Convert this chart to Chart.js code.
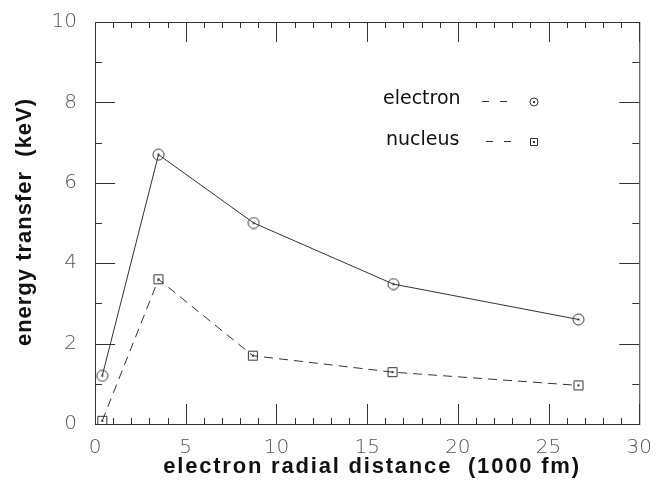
<!DOCTYPE html>
<html>
<head>
<meta charset="utf-8">
<script src="https://cdn.jsdelivr.net/npm/chart.js@4.4.1/dist/chart.umd.min.js"></script>
<style>
  html, body { margin: 0; background: #fff; }
  #wrap { width: 656px; height: 481px; }
</style>
</head>
<body>
<div id="wrap"><canvas id="chart"></canvas></div>
<script>
// values
const electronX = [0.4, 3.5, 8.75, 16.45, 26.65];
const electronY = [1.2, 6.7, 5.0, 3.48, 2.6];
const nucleusX = [0.4, 3.5, 8.7, 16.4, 26.65];
const nucleusY = [0.08, 3.6, 1.7, 1.29, 0.96];
const xTicks = [0, 5, 10, 15, 20, 25, 30];
const yTicks = [0, 2, 4, 6, 8, 10];
const seriesNames = ["electron", "nucleus"];
const xTitle = "electron radial distance  (1000 fm)";
const yTitle = "energy transfer  (keV)";

const ink = "#333";

function marker(kind, size) {
    const c = document.createElement("canvas");
    c.width = size; c.height = size;
    const g = c.getContext("2d");
    const m = size / 2;
    g.strokeStyle = ink;
    g.lineWidth = 1;
    g.beginPath();
    if (kind === "circle") g.arc(m, m, m - 1, 0, Math.PI * 2);
    else g.rect(1.5, 1.5, size - 3, size - 3);
    g.stroke();
    g.fillStyle = ink;
    g.fillRect(m - 1, m - 1, 2, 2);
    return c;
}

const toPoints = (xs, ys) => xs.map((x, i) => ({ x: x, y: ys[i] }));

// frame with inward ticks on all four sides, titles and the legend
const framePlugin = {
    id: "frame",
    beforeDatasetsDraw(chart) {
        const { ctx, chartArea: a, scales } = chart;
        ctx.save();
        ctx.strokeStyle = ink;
        ctx.lineWidth = 1;
        ctx.strokeRect(a.left + 0.5, a.top + 0.5, a.right - a.left, a.bottom - a.top);
        ctx.beginPath();
        for (let v = 0; v <= 30; v++) {
            const px = Math.round(scales.x.getPixelForValue(v)) + 0.5;
            const len = xTicks.includes(v) ? 20 : 6;
            ctx.moveTo(px, a.bottom); ctx.lineTo(px, a.bottom - len);
            ctx.moveTo(px, a.top); ctx.lineTo(px, a.top + len);
        }
        for (let v = 0; v <= 10; v++) {
            const py = Math.round(scales.y.getPixelForValue(v)) + 0.5;
            const len = yTicks.includes(v) ? 20 : 7;
            ctx.moveTo(a.left, py); ctx.lineTo(a.left + len, py);
            ctx.moveTo(a.right, py); ctx.lineTo(a.right - len, py);
        }
        ctx.stroke();
        ctx.restore();
    },
    afterDraw(chart) {
        const { ctx } = chart;
        ctx.save();
        ctx.fillStyle = "#111";
        ctx.textAlign = "center";
        ctx.textBaseline = "middle";
        ctx.font = "bold 22px 'Liberation Sans'";
        ctx.letterSpacing = "1.8px";
        ctx.fillText(xTitle, 372, 467);
        ctx.letterSpacing = "1px";
        ctx.translate(25, 222);
        ctx.rotate(-Math.PI / 2);
        ctx.fillText(yTitle, 0, 0);
        ctx.restore();

        // legend
        ctx.save();
        ctx.fillStyle = "#111";
        ctx.font = "19px 'DejaVu Sans'";
        ctx.textBaseline = "middle";
        ctx.fillText(seriesNames[0], 383, 99);
        ctx.fillText(seriesNames[1], 386, 140);
        ctx.strokeStyle = ink;
        ctx.lineWidth = 1.2;
        ctx.beginPath();
        ctx.moveTo(482, 101.5); ctx.lineTo(489, 101.5);
        ctx.moveTo(500, 101.5); ctx.lineTo(507, 101.5);
        ctx.moveTo(486, 141.5); ctx.lineTo(493, 141.5);
        ctx.moveTo(504, 141.5); ctx.lineTo(511, 141.5);
        ctx.stroke();
        ctx.drawImage(marker("circle", 10), 529, 97);
        ctx.drawImage(marker("square", 10), 529, 137);
        ctx.restore();
    }
};

const tickFont = { family: "'DejaVu Sans'", size: 20, weight: 200 };

new Chart(document.getElementById("chart"), {
    type: "scatter",
    data: {
        datasets: [{
            label: seriesNames[0],
            data: toPoints(electronX, electronY),
            showLine: true,
            borderColor: ink,
            borderWidth: 1,
            pointStyle: marker("circle", 13)
        }, {
            label: seriesNames[1],
            data: toPoints(nucleusX, nucleusY),
            showLine: true,
            borderColor: ink,
            borderWidth: 1,
            borderDash: [9, 6],
            pointStyle: marker("square", 12)
        }]
    },
    options: {
        responsive: true,
        maintainAspectRatio: false,
        animation: false,
        layout: { padding: { top: 20, right: 14, left: 0, bottom: 0 } },
        plugins: { legend: { display: false }, tooltip: { enabled: false } },
        scales: {
            x: {
                type: "linear", min: 0, max: 30,
                grid: { display: false }, border: { display: false },
                ticks: { stepSize: 5, font: tickFont, color: "#555", padding: 4 },
                afterFit: s => { s.height = 57; }
            },
            y: {
                type: "linear", min: 0, max: 10,
                grid: { display: false }, border: { display: false },
                ticks: { stepSize: 2, font: tickFont, color: "#555", padding: 10 },
                afterFit: s => { s.width = 95; }
            }
        }
    },
    plugins: [framePlugin]
});
</script>
</body>
</html>
